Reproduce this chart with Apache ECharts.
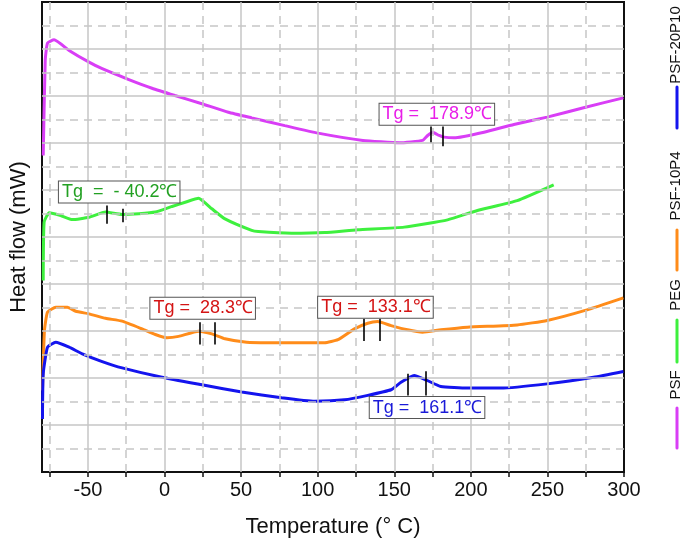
<!DOCTYPE html>
<html><head><meta charset="utf-8">
<script src="https://cdn.jsdelivr.net/npm/echarts@6/dist/echarts.min.js"></script>
<style>html,body{margin:0;padding:0;background:#fff}#c{width:685px;height:550px}</style>
</head><body><div id="c"></div>
<script>
// ---- data (temperature °C, heat flow in arbitrary grid units) ----
const psf = [[-79.2,13.47],[-77.9,17.51],[-76.4,18.25],[-72.1,18.39],[-62.3,17.94],[-49.3,17.44],[-40.7,17.16],[-23.3,16.70],[-8.2,16.33],[6.8,16.02],[24.4,15.67],[41.7,15.31],[56.9,15.07],[78.5,14.74],[100.2,14.42],[129.5,14.11],[153.3,14.01],[168.5,14.11],[171.8,14.32],[175.0,14.46],[179.3,14.32],[182.5,14.25],[189.0,14.22],[208.6,14.46],[228.1,14.79],[249.8,15.10],[273.6,15.50],[299.6,15.92]];
const peg = [[-79.2,8.15],[-78.6,10.63],[-75.3,11.03],[-67.8,10.91],[-60.2,10.74],[-49.3,10.84],[-38.5,11.06],[-27.7,10.96],[-16.8,10.99],[-6.0,11.06],[4.9,11.30],[13.5,11.48],[22.2,11.65],[30.9,11.20],[39.5,10.77],[56.9,10.28],[61.2,10.23],[82.9,10.16],[104.5,10.19],[126.2,10.31],[156.5,10.42],[184.8,10.73],[204.3,11.13],[230.3,11.55],[254.1,12.22]];
const psf10 = [[-79.7,3.47],[-78.4,6.02],[-76.4,6.80],[-71.0,7.01],[-63.4,7.01],[-58.0,6.84],[-49.3,6.73],[-38.5,6.54],[-27.7,6.42],[-14.7,6.09],[-6.0,5.85],[1.6,5.71],[9.2,5.77],[22.2,5.99],[30.9,5.88],[39.5,5.67],[53.6,5.52],[67.7,5.50],[104.5,5.50],[113.2,5.63],[124.0,6.09],[132.7,6.33],[139.2,6.40],[147.9,6.23],[158.7,6.05],[168.5,5.95],[180.4,6.05],[197.8,6.16],[230.3,6.26],[249.8,6.45],[275.8,6.90],[299.6,7.41]];
const psf20 = [[-79.7,2.26],[-79.2,4.18],[-76.4,5.31],[-71.0,5.52],[-62.3,5.31],[-53.7,5.03],[-40.7,4.70],[-27.7,4.43],[-1.7,4.03],[24.4,3.71],[50.4,3.40],[76.4,3.16],[98.0,3.01],[117.5,3.07],[132.7,3.26],[147.9,3.50],[154.4,3.82],[163.0,4.11],[170.7,3.92],[180.4,3.64],[197.8,3.57],[219.4,3.57],[249.8,3.75],[280.1,4.03],[299.6,4.28]];

const seriesNames = ['PSF','PEG','PSF-10P4','PSF-20P10'];
// Tg marker segments: [x, yBottom, yTop]
const psfTgMarks = [[173.9,14.03,14.70],[181.9,13.86,14.70]];
const pegTgMarks = [[-37.9,10.56,11.34],[-27.2,10.63,11.20]];
const psf10TgMarks = [[22.9,5.43,6.37],[32.6,5.43,6.37],[129.9,5.57,6.52],[140.3,5.57,6.52]];
const psf20TgMarks = [[158.7,3.26,4.18],[170.7,3.26,4.29]];
// Tg labels: [x, y, text]
const psfTgLabels = [[177.8,15.22,'Tg =  178.9\u2103']];
const pegTgLabels = [[-29.6,11.92,'Tg  =  - 40.2\u2103']];
const psf10TgLabels = [[24.9,6.97,'Tg =  28.3\u2103'],[137.7,7.01,'Tg =  133.1\u2103']];
const psf20TgLabels = [[171.4,2.74,'Tg =  161.1\u2103']];

const xTicks = [-75,-50,-25,0,25,50,75,100,125,150,175,200,225,250,275,300];
const xLabels = [-50,0,50,100,150,200,250,300];
const vSolid = [-50,0,50,100,150,200,250];
const vDashed = [-75,-25,25,75,125,175,225,275];
const hSolid = [2,4,6,8,10,12,14,16,18];
const hDashed = [1,3,5,7,9,11,13,15,17,19];

// ---- styles ----
const colors = ['#d93ef6','#3ef03e','#ff8c1a','#1414ee'];
const labelColors = ['#e81ee8','#22a022','#d41414','#1a1ad8'];
const FONT = '"Liberation Sans", Arial, sans-serif';
const gridColor = '#c6c6c6';

const gridLines = [];
vSolid.forEach(v => gridLines.push({xAxis: v, lineStyle: {type: 'solid'}}));
vDashed.forEach(v => gridLines.push({xAxis: v, lineStyle: {type: [8,6]}}));
hSolid.forEach(v => gridLines.push({yAxis: v, lineStyle: {type: 'solid'}}));
hDashed.forEach(v => gridLines.push({yAxis: v, lineStyle: {type: [8,6]}}));

function tgMarkLine(marks) {
  return {
    silent: true, symbol: ['none','none'], animation: false,
    label: {show: false},
    lineStyle: {color: '#000', width: 1.6, type: 'solid'},
    data: marks.map(m => [{coord: [m[0], m[1]]}, {coord: [m[0], m[2]]}])
  };
}
function tgMarkPoint(labels, color) {
  return {
    silent: true, animation: false,
    symbol: 'rect', symbolSize: 1,
    itemStyle: {color: 'rgba(0,0,0,0)'},
    data: labels.map(l => ({
      coord: [l[0], l[1]],
      label: {
        show: true, position: 'inside', formatter: l[2],
        color: color, fontSize: 18, fontFamily: FONT,
        backgroundColor: '#fff', borderColor: '#555', borderWidth: 1,
        padding: [2, 2, 1, 3]
      }
    }))
  };
}

const dataSets = [psf, peg, psf10, psf20];
const markSets = [psfTgMarks, pegTgMarks, psf10TgMarks, psf20TgMarks];
const labelSets = [psfTgLabels, pegTgLabels, psf10TgLabels, psf20TgLabels];

const series = [{
  type: 'line', data: [], z: 1, silent: true,
  markLine: {
    silent: true, symbol: ['none','none'], animation: false,
    label: {show: false},
    lineStyle: {color: gridColor, width: 1.5},
    data: gridLines
  }
}];
dataSets.forEach((d, i) => {
  series.push({
    name: seriesNames[i], type: 'line', data: d, z: 3,
    showSymbol: false, symbol: 'none', smooth: 0.15,
    lineStyle: {color: colors[i], width: 3},
    itemStyle: {color: colors[i]},
    markLine: tgMarkLine(markSets[i]),
    markPoint: tgMarkPoint(labelSets[i], labelColors[i])
  });
});

// legend drawn as rotated text (bottom to top)
const legendItems = [
  {name: seriesNames[0], color: colors[0], line: [448, 408], text: 385},
  {name: seriesNames[1], color: colors[1], line: [362, 320], text: 295},
  {name: seriesNames[2], color: colors[2], line: [270, 230], text: 186},
  {name: seriesNames[3], color: colors[3], line: [128, 87], text: 45}
];
const graphic = [];
legendItems.forEach(it => {
  graphic.push({type: 'line', silent: true, shape: {x1: 677, y1: it.line[0], x2: 677, y2: it.line[1]},
    style: {stroke: it.color, lineWidth: 3, lineCap: 'round'}});
  graphic.push({type: 'text', silent: true, x: 676, y: it.text, rotation: Math.PI / 2,
    style: {text: it.name, fill: '#111', font: '15px ' + FONT, align: 'center', verticalAlign: 'middle'}});
});

const chart = echarts.init(document.getElementById('c'), null, {renderer: 'canvas'});
chart.setOption({
  animation: false,
  backgroundColor: '#fff',
  grid: {left: 40, right: 61, top: 2, bottom: 78, show: true, borderColor: '#111', borderWidth: 2, backgroundColor: 'transparent'},
  xAxis: {
    type: 'value', min: -80, max: 300,
    name: 'Temperature (\u00b0 C)', nameLocation: 'middle', nameGap: 44,
    nameTextStyle: {fontSize: 22, fontFamily: FONT, color: '#111'},
    axisLine: {show: true, onZero: false, lineStyle: {color: '#111', width: 2}},
    axisTick: {show: true, customValues: xTicks, length: 5, inside: false, lineStyle: {color: '#111', width: 1.5}},
    axisLabel: {show: true, customValues: xLabels, fontSize: 20, fontFamily: FONT, color: '#111', margin: 8},
    splitLine: {show: false}
  },
  yAxis: {
    type: 'value', min: 0, max: 20,
    name: 'Heat flow (mW)', nameLocation: 'middle', nameGap: 12,
    nameTextStyle: {fontSize: 22, fontFamily: FONT, color: '#111'},
    axisLine: {show: true, onZero: false, lineStyle: {color: '#111', width: 2}},
    axisTick: {show: false}, axisLabel: {show: false}, splitLine: {show: false}
  },
  graphic: graphic,
  series: series
});
</script>
</body></html>
